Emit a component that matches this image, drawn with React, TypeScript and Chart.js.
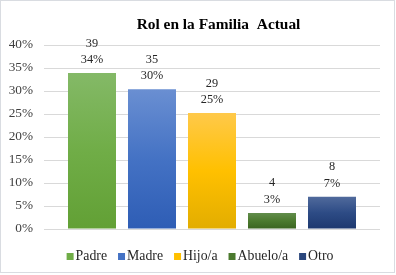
import React, { useEffect, useRef } from "react";
import { Chart, registerables } from "chart.js";

Chart.register(...registerables);

const chartTitle = "Rol en la Familia  Actual";
const categories = ["Padre", "Madre", "Hijo/a", "Abuelo/a", "Otro"];
const counts = [39, 35, 29, 4, 8];
const percents = [33.9, 30.4, 25.2, 3.5, 7.0];
const percentLabels = ["34%", "30%", "25%", "3%", "7%"];
const yMax = 40;
const yStep = 5;

const solidColors = ["#70ad47", "#4472c4", "#ffc000", "#4b7a2e", "#2a467c"];
const gradientTops = ["#84b967", "#6a8fd2", "#ffc94a", "#628d4c", "#506a9c"];
const gradientMids = ["#70ad47", "#4472c4", "#ffc000", "#4b7a2e", "#2d4b85"];
const gradientBottoms = ["#62a035", "#2e5db5", "#e2ad00", "#3a6420", "#1d386f"];

const SERIF = "'Liberation Serif', 'Times New Roman', serif";

function barGradient(chart: any, value: number, i: number) {
  const { ctx, chartArea, scales } = chart;
  if (!chartArea || !scales || !scales.y) return solidColors[i];
  const top = scales.y.getPixelForValue(value);
  const bottom = scales.y.getPixelForValue(0);
  if (!isFinite(top) || !isFinite(bottom) || top === bottom) return solidColors[i];
  const g = ctx.createLinearGradient(0, top, 0, bottom);
  g.addColorStop(0, gradientTops[i]);
  g.addColorStop(0.5, gradientMids[i]);
  g.addColorStop(1, gradientBottoms[i]);
  return g;
}

const framePlugin = {
  id: "frame",
  beforeDraw(chart: any) {
    const { ctx, width, height } = chart;
    ctx.save();
    ctx.fillStyle = "#ffffff";
    ctx.fillRect(0, 0, width, height);
    ctx.strokeStyle = "#d9dce1";
    ctx.lineWidth = 1;
    ctx.strokeRect(0.5, 0.5, width - 2, height - 3);
    ctx.restore();
  },
};

const titlePlugin = {
  id: "customTitle",
  afterDraw(chart: any) {
    const { ctx } = chart;
    ctx.save();
    ctx.font = `bold 15.4px ${SERIF}`;
    ctx.fillStyle = "#000000";
    ctx.textAlign = "center";
    ctx.textBaseline = "alphabetic";
    ctx.fillText(chartTitle, 218.5, 29);
    ctx.restore();
  },
};

const dataLabelPlugin = {
  id: "dataLabels",
  afterDatasetsDraw(chart: any) {
    const { ctx } = chart;
    ctx.save();
    ctx.font = `12.3px ${SERIF}`;
    ctx.fillStyle = "#262626";
    ctx.textAlign = "center";
    ctx.textBaseline = "alphabetic";
    chart.data.datasets.forEach((_: any, i: number) => {
      const meta = chart.getDatasetMeta(i);
      const bar = meta.data[0];
      if (!bar) return;
      ctx.fillText(String(counts[i]), bar.x, bar.y - 26.5);
      ctx.fillText(percentLabels[i], bar.x, bar.y - 9.7);
    });
    ctx.restore();
  },
};

const legendPlugin = {
  id: "customLegend",
  afterDraw(chart: any) {
    const { ctx } = chart;
    ctx.save();
    ctx.font = `13.8px ${SERIF}`;
    ctx.textBaseline = "alphabetic";
    ctx.textAlign = "left";
    const box = 7;
    const gap = 2;
    const spacing = 11;
    const widths = categories.map((c) => box + gap + ctx.measureText(c).width);
    const total = widths.reduce((a, b) => a + b, 0) + spacing * (categories.length - 1);
    let x = 200 - total / 2;
    const baseline = 260;
    categories.forEach((c, i) => {
      ctx.fillStyle = solidColors[i];
      ctx.fillRect(x, baseline - box, box, box);
      ctx.fillStyle = "#262626";
      ctx.fillText(c, x + box + gap, baseline);
      x += widths[i] + spacing;
    });
    ctx.restore();
  },
};

export default function App() {
  const canvasRef = useRef<HTMLCanvasElement | null>(null);

  useEffect(() => {
    if (!canvasRef.current) return;
    const chart = new Chart(canvasRef.current, {
      type: "bar",
      data: {
        labels: [""],
        datasets: categories.map((c, i) => ({
          label: c,
          data: [percents[i]],
          backgroundColor: (context: any) => barGradient(context.chart, percents[i], i),
          borderWidth: 0,
          categoryPercentage: 300 / 336,
          barPercentage: 0.8,
        })),
      },
      options: {
        responsive: false,
        animation: false,
        devicePixelRatio: 1,
        layout: { padding: { left: 0, right: 16, top: 45, bottom: 46 } },
        plugins: {
          legend: { display: false },
          title: { display: false },
          tooltip: { enabled: false },
        },
        scales: {
          x: { display: false },
          y: {
            min: 0,
            max: yMax,
            afterFit: (scale: any) => {
              scale.width = 44;
            },
            ticks: {
              stepSize: yStep,
              padding: 11,
              color: "#404040",
              font: { family: SERIF, size: 13.3 },
              callback: (v: any) => `${v}%`,
            },
            grid: { color: "#d9d9d9", lineWidth: 1, drawTicks: false },
            border: { display: false },
          },
        },
      },
      plugins: [framePlugin, dataLabelPlugin, titlePlugin, legendPlugin],
    });
    return () => chart.destroy();
  }, []);

  return (
    <div style={{ position: "fixed", left: 0, top: 0, width: 396, height: 275 }}>
      <canvas ref={canvasRef} width={396} height={275} style={{ width: 396, height: 275 }} />
    </div>
  );
}
